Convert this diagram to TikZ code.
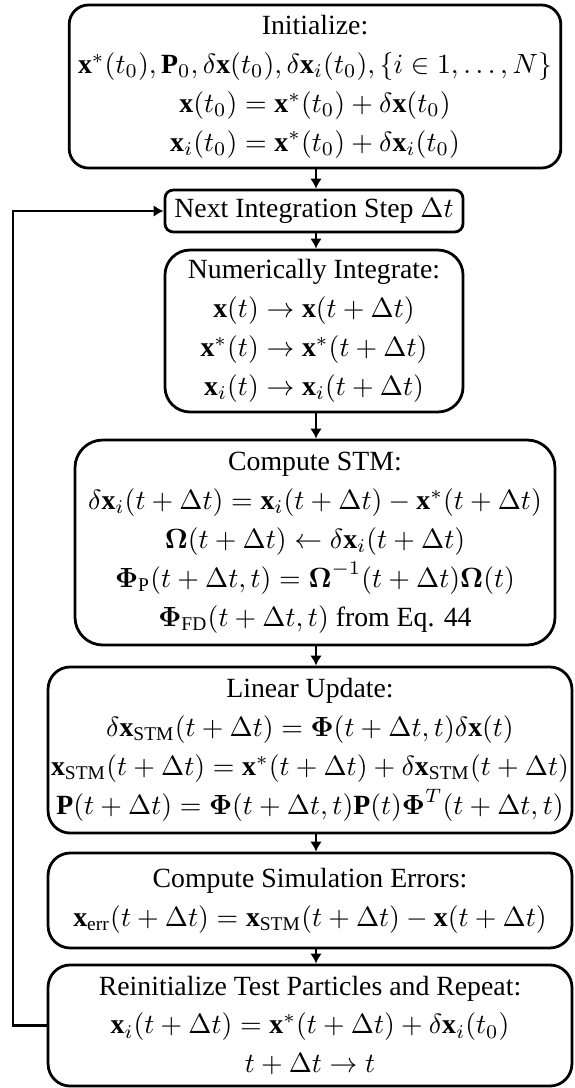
\documentclass[tikz,border=0pt]{standalone}
\usepackage{amsmath,amssymb}
\usepackage{bm}
\usepackage{fontspec}
\setmainfont{Liberation Serif}
\usetikzlibrary{arrows.meta,positioning}

\newcommand{\xb}{\mathbf{x}}
\newcommand{\tdt}{t+\Delta t}

\begin{document}
\begin{tikzpicture}[
        x=0.36pt, y=-0.36pt,
        every node/.style={align=center, inner sep=3pt, line width=1pt},
        initbox/.style ={rectangle, rounded corners=7pt, draw=black,
                         font=\fontsize{10}{14}\selectfont,
                         minimum width=177pt, minimum height=58.7pt},
        stepbox/.style ={rectangle, rounded corners=3pt, draw=black,
                         font=\fontsize{10}{14}\selectfont,
                         minimum width=107.3pt, minimum height=15.1pt},
        stagebox/.style={rectangle, rounded corners=9pt, draw=black,
                         font=\fontsize{10}{14}\selectfont},
        widebox/.style ={rectangle, rounded corners=8pt, draw=black,
                         font=\fontsize{10}{14}\selectfont, inner xsep=1pt,
                         minimum width=188.6pt},
        flow/.style    ={-{Latex[length=3.6pt,width=4.2pt]}, line width=1pt},
    ]
        \useasboundingbox (0,0) rectangle (574,1088);

        % ===================== Inicio y paso =====================
        \node[initbox]  (init) at (315, 86.5)
            {Initialize:\\
             $\xb^*(t_0), \mathbf{P}_0, \delta\xb(t_0), \delta\xb_i(t_0), \{i \in 1,\ldots,N\}$\\
             $\xb(t_0) = \xb^*(t_0) + \delta\xb(t_0)$\\
             $\xb_i(t_0) = \xb^*(t_0) + \delta\xb_i(t_0)$};
        \node[stepbox]  (next) at (314, 211) {Next Integration Step $\Delta t$};
        \node[stagebox, minimum width=107.3pt, minimum height=58.3pt] (integ) at (314, 331)
            {Numerically Integrate:\\
             $\xb(t) \rightarrow \xb(\tdt)$\\
             $\xb^*(t) \rightarrow \xb^*(\tdt)$\\
             $\xb_i(t) \rightarrow \xb_i(\tdt)$};

        % ===================== STM =====================
        \node[stagebox, rounded corners=10pt, minimum width=172.8pt, minimum height=73.8pt] (stm) at (315, 542.5)
            {Compute STM:\\
             $\delta\xb_i(\tdt) = \xb_i(\tdt) - \xb^*(\tdt)$\\
             $\bm{\Omega}(\tdt) \leftarrow \delta\xb_i(\tdt)$\\
             $\bm{\Phi}_{\text{P}}(\tdt, t) = \bm{\Omega}^{-1}(\tdt)\bm{\Omega}(t)$\\
             $\bm{\Phi}_{\text{FD}}(\tdt, t)$ from Eq. 44};

        % ===================== Actualizacion y errores =====================
        \node[widebox, minimum height=59.8pt] (lin) at (310, 750)
            {Linear Update:\\
             $\delta\xb_{\text{STM}}(\tdt) = \bm{\Phi}(\tdt,t)\delta\xb(t)$\\
             $\xb_{\text{STM}}(\tdt) = \xb^*(\tdt) + \delta\xb_{\text{STM}}(\tdt)$\\
             $\mathbf{P}(\tdt) = \bm{\Phi}(\tdt,t)\mathbf{P}(t)\bm{\Phi}^T(\tdt,t)$};
        \node[widebox, minimum height=34.2pt] (err) at (310, 900.5)
            {Compute Simulation Errors:\\
             $\xb_{\text{err}}(\tdt) = \xb_{\text{STM}}(\tdt) - \xb(\tdt)$};
        \node[widebox, minimum height=43.6pt] (reinit) at (310, 1025.5)
            {Reinitialize Test Particles and Repeat:\\
             $\xb_i(\tdt) = \xb^*(\tdt) + \delta\xb_i(t_0)$\\
             $\tdt \rightarrow t$};

        \coordinate (spine) at (316, 0);
        \coordinate (loop)  at (13, 0);

        % ===================== Flechas =====================
        \draw[flow] (spine |- init.south) -- (spine |- next.north);
        \draw[flow] (spine |- next.south) -- (spine |- integ.north);
        \draw[flow] (spine |- integ.south) -- (spine |- stm.north);
        \draw[flow] (spine |- stm.south) -- (spine |- lin.north);
        \draw[flow] (spine |- lin.south) -- (spine |- err.north);
        \draw[flow] (spine |- err.south) -- (spine |- reinit.north);

        % Lazo de vuelta.
        \draw[flow] (reinit.west) -- (loop |- reinit.west) |- (next.west);
    \end{tikzpicture}
\end{document}
